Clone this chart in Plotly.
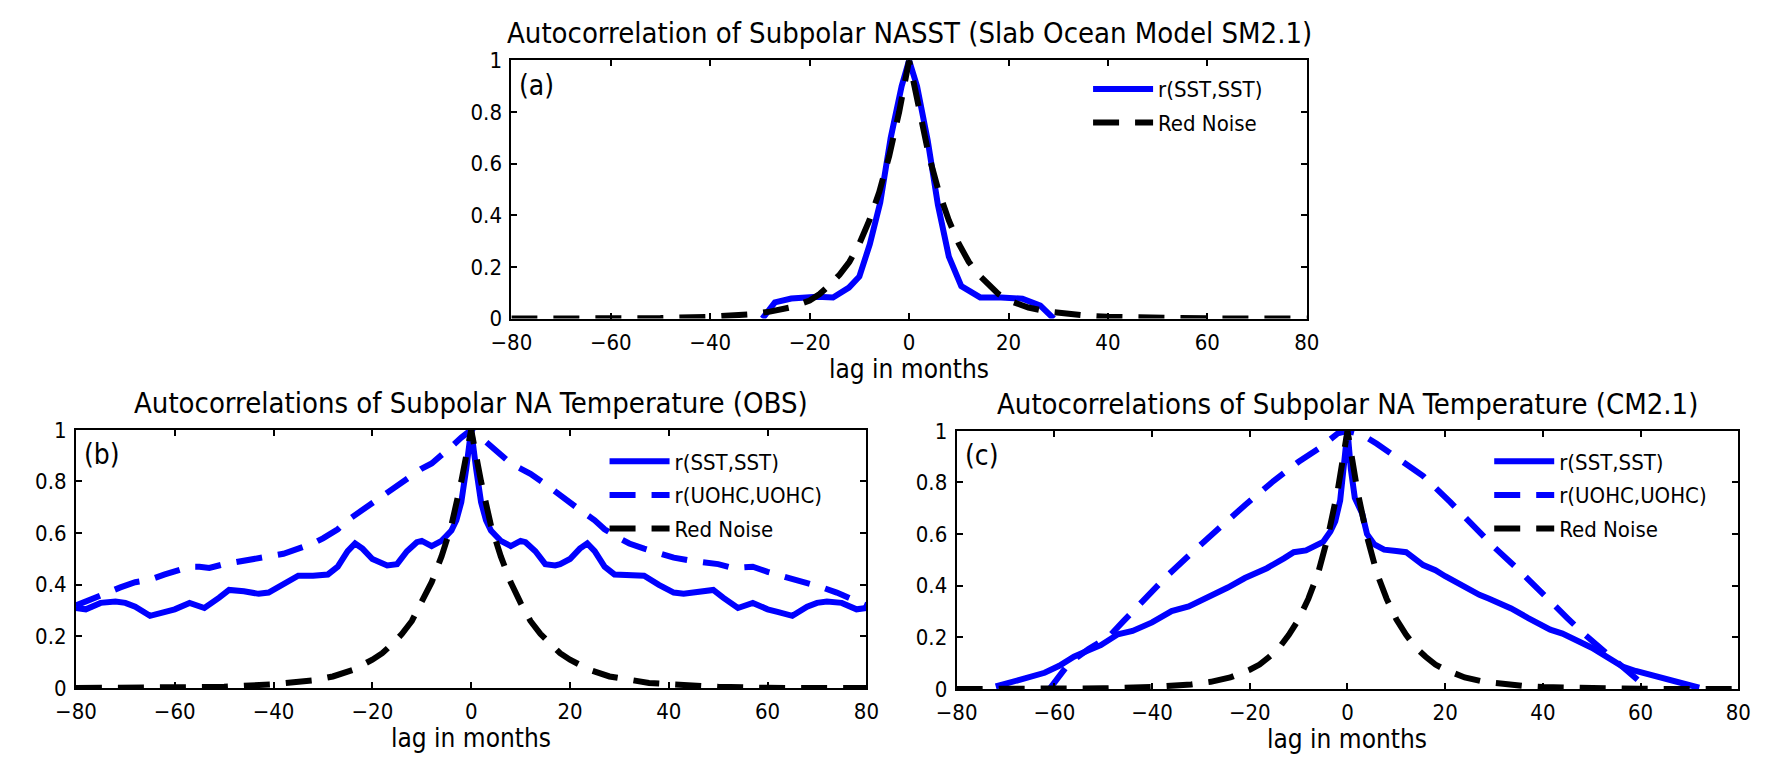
import plotly.graph_objects as go

# ---------------- data ----------------
# Panel (a): Slab Ocean Model SM2.1
a_sst_lag = [-29.5, -27, -23.7, -18.5, -15.3, -12.1, -10, -7.9, -5.8, -3.7, -1.5, 0,
             1.6, 3.75, 5.8, 8, 10.5, 14.3, 18.5, 22.8, 26.4, 29.1]
a_sst_val = [0.0, 0.063, 0.078, 0.085, 0.082, 0.12, 0.163, 0.288, 0.45, 0.70, 0.90, 1.0,
             0.90, 0.69, 0.44, 0.24, 0.126, 0.082, 0.082, 0.077, 0.05, 0.0]

rn_lag = [-80, -70, -60, -50, -40, -36, -32, -28, -24, -20, -18, -16, -14, -12, -10, -8, -6, -4, -2, 0,
          2, 4, 6, 8, 10, 12, 14, 16, 18, 20, 24, 28, 32, 36, 40, 50, 60, 70, 80]
a_rn_val = [0.0, 0.0, 0.001, 0.002, 0.007, 0.011, 0.017, 0.027, 0.043, 0.07, 0.095, 0.13, 0.17, 0.22,
            0.29, 0.38, 0.49, 0.63, 0.80, 1.0,
            0.80, 0.63, 0.49, 0.38, 0.29, 0.22, 0.17, 0.13, 0.095, 0.07, 0.043, 0.027, 0.017, 0.011,
            0.007, 0.002, 0.001, 0.0, 0.0]

# Panel (b): OBS
b_sst_lag = [-80, -78, -75, -72, -70, -68, -65, -62, -60, -57, -54, -51, -49, -46, -43, -41, -38, -35,
             -32, -29, -27, -25, -23.5, -22, -20, -18, -17, -15, -13, -11, -10, -8, -6, -5, -4, -3, -2,
             -1, 0, 1, 2, 3, 4, 5, 6, 8, 10, 11, 13, 15, 17, 18, 20, 22, 23.5, 25, 27, 29, 32, 35, 38,
             41, 43, 46, 49, 51, 54, 57, 60, 62, 65, 68, 70, 72, 75, 78, 80]
b_sst_val = [0.31, 0.305, 0.33, 0.335, 0.33, 0.315, 0.28, 0.295, 0.305, 0.33, 0.31, 0.35, 0.38, 0.375,
             0.365, 0.37, 0.40, 0.435, 0.435, 0.44, 0.47, 0.53, 0.56, 0.54, 0.50, 0.48, 0.475, 0.48,
             0.53, 0.565, 0.57, 0.55, 0.57, 0.59, 0.61, 0.65, 0.72, 0.85, 1.0,
             0.85, 0.72, 0.65, 0.61, 0.59, 0.57, 0.55, 0.57, 0.565, 0.53, 0.48, 0.475, 0.48, 0.50,
             0.54, 0.56, 0.53, 0.47, 0.44, 0.435, 0.435, 0.40, 0.37, 0.365, 0.375, 0.38, 0.35, 0.31,
             0.33, 0.305, 0.295, 0.28, 0.315, 0.33, 0.335, 0.33, 0.305, 0.31]

b_uohc_lag = [-80, -77, -74, -71, -68, -65, -62, -60, -57, -55, -53, -50, -47, -44, -41, -38, -35, -32,
              -30, -27, -25, -22, -20, -17, -15, -12, -10, -8, -6, -4, -2, 0,
              2, 4, 6, 8, 10, 12, 15, 17, 20, 22, 25, 27, 30, 32, 35, 38, 41, 44, 47, 50, 53, 55, 57,
              60, 62, 65, 68, 71, 74, 77, 80]
b_uohc_val = [0.32, 0.345, 0.37, 0.39, 0.41, 0.42, 0.44, 0.45, 0.47, 0.47, 0.465, 0.48, 0.49, 0.495,
              0.505, 0.52, 0.54, 0.56, 0.58, 0.615, 0.65, 0.69, 0.72, 0.76, 0.79, 0.83, 0.85, 0.87,
              0.90, 0.935, 0.97, 1.0,
              0.97, 0.935, 0.90, 0.87, 0.85, 0.83, 0.79, 0.76, 0.72, 0.69, 0.65, 0.615, 0.58, 0.56,
              0.54, 0.52, 0.505, 0.495, 0.49, 0.48, 0.465, 0.47, 0.47, 0.45, 0.44, 0.42, 0.41, 0.39,
              0.37, 0.345, 0.32]

b_rn_val = [0.0, 0.0, 0.001, 0.005, 0.015, 0.02, 0.03, 0.045, 0.07, 0.11, 0.135, 0.17, 0.21, 0.26,
            0.33, 0.41, 0.51, 0.63, 0.80, 1.0,
            0.80, 0.63, 0.51, 0.41, 0.33, 0.26, 0.21, 0.17, 0.135, 0.11, 0.07, 0.045, 0.03, 0.02,
            0.015, 0.005, 0.001, 0.0, 0.0]

# Panel (c): CM2.1
c_sst_lag = [-72, -70, -67.5, -65, -62, -59, -56, -53, -50.5, -47, -44, -40, -36, -32.5, -29, -27,
             -24.5, -21, -18.5, -16.5, -13, -11, -8.5, -7, -5, -3.5, -2.5, -1.5, -0.7, 0,
             0.7, 1.5, 3, 4, 5.5, 7.5, 10, 12, 15.5, 18, 20, 22.5, 24.5, 27, 29, 31.5, 33.5, 37,
             39.5, 41.5, 44, 47, 50, 52, 54, 56.3, 59, 62, 64.5, 66.5, 69, 71, 72]
c_sst_val = [0.01, 0.02, 0.032, 0.045, 0.063, 0.09, 0.125, 0.15, 0.17, 0.212, 0.225, 0.258, 0.302,
             0.32, 0.35, 0.37, 0.393, 0.43, 0.45, 0.468, 0.506, 0.53, 0.537, 0.55, 0.57, 0.61, 0.65,
             0.73, 0.85, 1.0,
             0.85, 0.74, 0.68, 0.60, 0.56, 0.54, 0.535, 0.53, 0.48, 0.46, 0.437, 0.41, 0.387, 0.365,
             0.35, 0.33, 0.312, 0.275, 0.25, 0.23, 0.215, 0.19, 0.16, 0.137, 0.115, 0.087, 0.07,
             0.056, 0.045, 0.031, 0.02, 0.012, 0.005]

c_uohc_lag = [-61, -59, -57, -53, -49, -46, -41.5, -37, -31, -25.5, -21, -15.5, -10, -6, -4, -2, 0,
              2, 3, 6, 10, 15.5, 21, 25.5, 30, 35, 39.5, 45, 48.5, 53, 57.5, 61]
c_uohc_val = [0.0, 0.05, 0.10, 0.155, 0.20, 0.26, 0.35, 0.437, 0.543, 0.637, 0.712, 0.80, 0.88,
              0.93, 0.962, 0.99, 1.0,
              0.99, 0.985, 0.95, 0.90, 0.825, 0.725, 0.637, 0.55, 0.462, 0.375, 0.275, 0.212,
              0.137, 0.062, 0.01]

c_rn_val = [0.0, 0.0, 0.001, 0.003, 0.008, 0.012, 0.018, 0.028, 0.045, 0.075, 0.095, 0.125, 0.16,
            0.21, 0.27, 0.35, 0.45, 0.59, 0.77, 1.0,
            0.77, 0.59, 0.45, 0.35, 0.27, 0.21, 0.16, 0.125, 0.095, 0.075, 0.045, 0.028, 0.018,
            0.012, 0.008, 0.003, 0.001, 0.0, 0.0]

titles = ["Autocorrelation of Subpolar NASST (Slab Ocean Model SM2.1)",
          "Autocorrelations of Subpolar NA Temperature (OBS)",
          "Autocorrelations of Subpolar NA Temperature (CM2.1)"]
panel_tags = ["(a)", "(b)", "(c)"]
x_ticks = [-80, -60, -40, -20, 0, 20, 40, 60, 80]
x_ticktext = ["\u221280", "\u221260", "\u221240", "\u221220", "0", "20", "40", "60", "80"]
y_ticks = [0, 0.2, 0.4, 0.6, 0.8, 1]
y_ticktext = ["0", "0.2", "0.4", "0.6", "0.8", "1"]

# ---------------- figure ----------------
W, H = 1768, 763
FONT = "Liberation Sans Narrow, DejaVu Sans Condensed, Roboto, sans-serif"
BLUE = "#0000ff"
LW = 6
DASH = "26px,16px"

fig = go.Figure()

def px_x(p):
    return p / W

def px_y(p):
    return 1 - p / H

panels = [
    dict(x0=500, x1=1311, y0=50, y1=317),   # a
    dict(x0=56, x1=862, y0=432, y1=699),    # b
    dict(x0=954, x1=1751, y0=433, y1=700),  # c
]

def add(x, y, name, color, dash, ax, leg, grp):
    fig.add_trace(go.Scatter(x=x, y=y, mode="lines", name=name,
                             line=dict(color=color, width=LW, dash=dash),
                             xaxis="x" + ax, yaxis="y" + ax, legend=leg, legendgroup=grp))

add(a_sst_lag, a_sst_val, "r(SST,SST)", BLUE, "solid", "", "legend", "a1")
add(rn_lag, a_rn_val, "Red Noise", "black", DASH, "", "legend", "a2")

add(b_sst_lag, b_sst_val, "r(SST,SST)", BLUE, "solid", "2", "legend2", "b1")
add(b_uohc_lag, b_uohc_val, "r(UOHC,UOHC)", BLUE, DASH, "2", "legend2", "b2")
add(rn_lag, b_rn_val, "Red Noise", "black", DASH, "2", "legend2", "b3")

add(c_sst_lag, c_sst_val, "r(SST,SST)", BLUE, "solid", "3", "legend3", "c1")
add(c_uohc_lag, c_uohc_val, "r(UOHC,UOHC)", BLUE, DASH, "3", "legend3", "c2")
add(rn_lag, c_rn_val, "Red Noise", "black", DASH, "3", "legend3", "c3")

axis_common = dict(showline=True, linecolor="black", linewidth=2, mirror="ticks",
                   ticks="inside", ticklen=6, tickwidth=2, tickcolor="black",
                   showgrid=False, zeroline=False,
                   tickfont=dict(family=FONT, size=22, color="black"))

layout = dict(width=W, height=H, margin=dict(l=0, r=0, t=0, b=0),
              paper_bgcolor="white", plot_bgcolor="white", showlegend=True)

annotations = []
for i, p in enumerate(panels):
    sfx = "" if i == 0 else str(i + 1)
    layout["xaxis" + sfx] = dict(axis_common, domain=[px_x(p["x0"]), px_x(p["x1"])],
                                 range=[-80, 80], tickvals=x_ticks, ticktext=x_ticktext,
                                 ticklabelstandoff=3, anchor="y" + sfx)
    layout["yaxis" + sfx] = dict(axis_common, domain=[px_y(p["y1"]), px_y(p["y0"])],
                                 range=[0, 1], tickvals=y_ticks, ticktext=y_ticktext,
                                 ticklabelstandoff=3, anchor="x" + sfx)
    cx = (p["x0"] + p["x1"]) / 2
    annotations.append(dict(text=titles[i], x=px_x(cx), y=px_y(p["y0"] - 28), xref="paper",
                            yref="paper", showarrow=False, xanchor="center", yanchor="middle",
                            font=dict(family=FONT, size=29, color="black")))
    annotations.append(dict(text="lag in months", x=px_x(cx), y=px_y(p["y1"] + 52), xref="paper",
                            yref="paper", showarrow=False, xanchor="center", yanchor="middle",
                            font=dict(family=FONT, size=26, color="black")))
    annotations.append(dict(text=panel_tags[i], x=px_x(p["x0"] + 6), y=px_y(p["y0"] + 26),
                            xref="paper", yref="paper", showarrow=False, xanchor="left",
                            yanchor="middle", font=dict(family=FONT, size=28, color="black")))

legend_common = dict(bgcolor="rgba(0,0,0,0)", borderwidth=0, xanchor="left", yanchor="top",
                     font=dict(family=FONT, size=22, color="black"), itemwidth=60,
                     tracegroupgap=2)
layout["legend"] = dict(legend_common, x=px_x(1088), y=px_y(58))
layout["legend2"] = dict(legend_common, x=px_x(595), y=px_y(443))
layout["legend3"] = dict(legend_common, x=px_x(1497), y=px_y(443))
layout["annotations"] = annotations

fig.update_layout(**layout)
fig.write_html("out.html")
